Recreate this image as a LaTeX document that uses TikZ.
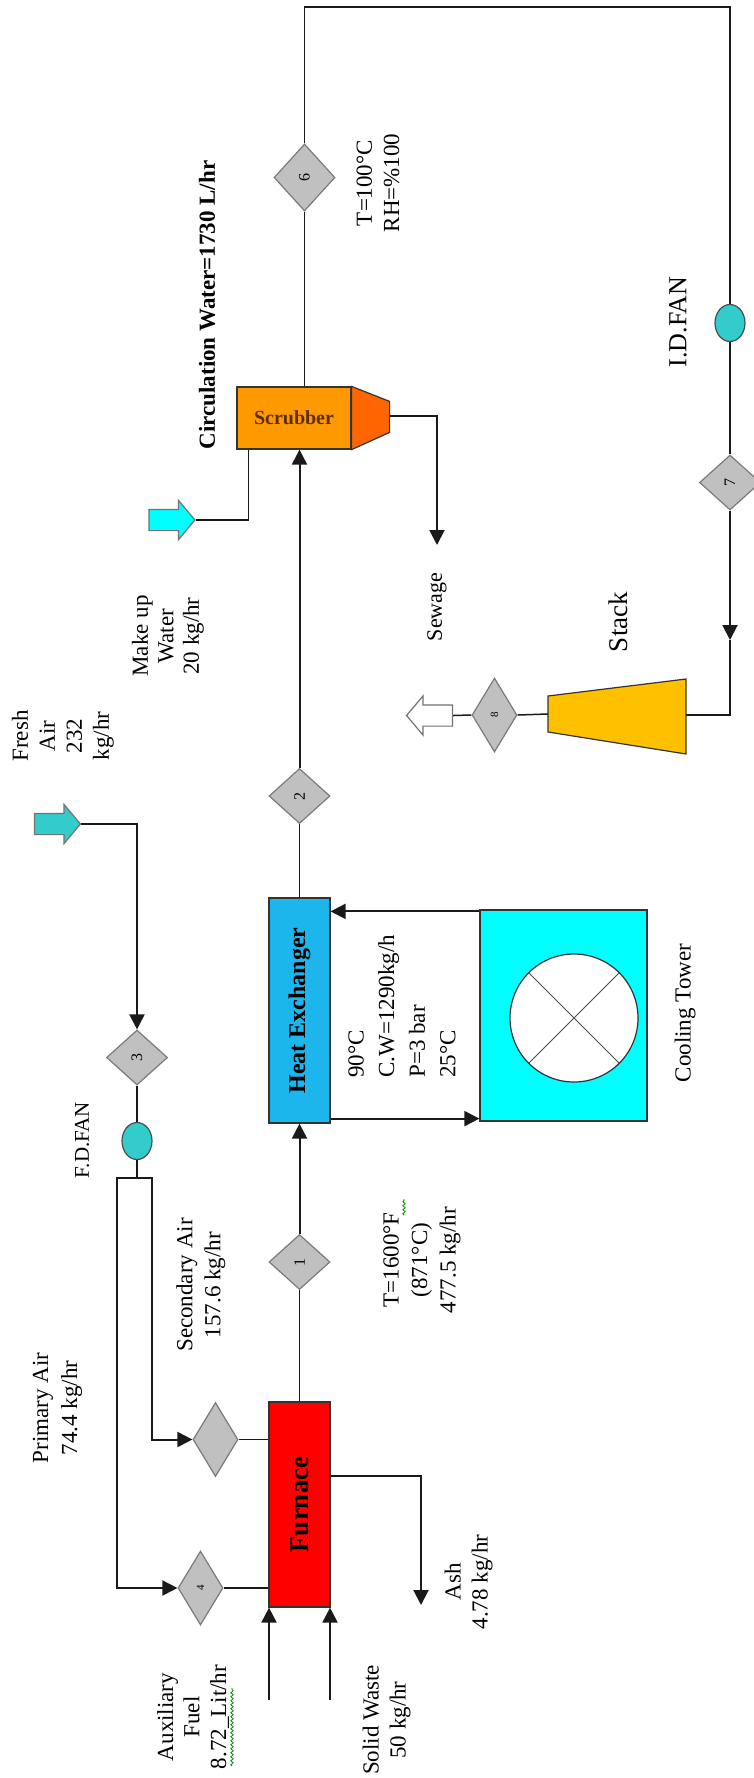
\documentclass[tikz,border=0pt]{standalone}
\usepackage{fontspec}
\setmainfont{Liberation Serif}
\usepackage{graphicx}
\usetikzlibrary{arrows.meta,calc,shapes.geometric,shapes.arrows,decorations.pathmorphing}
\definecolor{FurnaceRed}{HTML}{FF0000}
\definecolor{HxBlue}{HTML}{1CB5EC}
\definecolor{TowerCyan}{HTML}{00FFFF}
\definecolor{TagGray}{HTML}{C0C0C0}
\definecolor{TagEdge}{HTML}{7A7A7A}
\definecolor{FanTeal}{HTML}{33CCCC}
\definecolor{ScrubOrange}{HTML}{FF9900}
\definecolor{ScrubSide}{HTML}{FF6600}
\definecolor{ScrubText}{HTML}{5C2E00}
\definecolor{StackGold}{HTML}{FFC000}
\definecolor{LineGray}{HTML}{1A1A1A}
\tikzset{
  flowline/.style={draw=LineGray,line width=0.75pt},
  flowarrow/.style={flowline,line width=1pt,-{Triangle[length=7.5pt,width=7.5pt]}},
  unitbox/.style={rectangle,draw=black!80,line width=0.6pt,inner sep=0pt,font=\fontsize{13.5}{15}\selectfont\bfseries},
  tagbox/.style={diamond,draw=TagEdge,fill=TagGray,line width=0.6pt,inner sep=0pt,font=\fontsize{8}{9}\selectfont},
  tagwide/.style={tagbox,minimum width=30.5pt,minimum height=27.5pt},
  tagtall/.style={tagbox,minimum width=22.5pt,minimum height=37pt,font=\fontsize{5.5}{6}\selectfont},
  fanbox/.style={ellipse,draw=black!70,fill=FanTeal,line width=0.6pt,inner sep=0pt,minimum width=15pt,minimum height=18.5pt},
  feedarrow/.style={single arrow,single arrow tip angle=100,single arrow head extend=4.5pt,inner ysep=5pt,inner xsep=0pt,
    minimum height=23pt,draw=black!55,line width=0.6pt},
  note/.style={rotate=90,align=center,font=\fontsize{11.5}{14}\selectfont,inner sep=0pt},
  squiggle/.style={draw=green!55!black,line width=0.4pt,decorate,decoration={snake,amplitude=0.6pt,segment length=2pt}},
}
\newcommand{\rot}[1]{\rotatebox{90}{#1}}

\begin{document}
\begin{tikzpicture}[x=0.5pt,y=-0.5pt]
  \useasboundingbox (0,0) rectangle (754,1778);

  % units
  \node[unitbox,fill=FurnaceRed,minimum width=30.5pt,minimum height=102.5pt] (furnace) at (299.5,1504.5) {\rot{Furnace}};
  \node[unitbox,fill=HxBlue,minimum width=30.5pt,minimum height=112.5pt,font=\fontsize{12}{14}\selectfont\bfseries] (hx) at (299.5,1010.5) {\rot{Heat Exchanger}};
  \node[unitbox,fill=TowerCyan,minimum width=83.5pt,minimum height=105.5pt] (ct) at (563.5,1015.5) {};
  \node[circle,draw=black!80,fill=white,line width=0.6pt,minimum size=64pt,inner sep=0pt,
    path picture={\draw[black!70,line width=0.5pt] (path picture bounding box.north west) -- (path picture bounding box.south east)
      (path picture bounding box.north east) -- (path picture bounding box.south west);}] (ctfan) at (574,1018) {};
  \node[unitbox,fill=ScrubOrange,minimum width=57pt,minimum height=31pt,text=ScrubText,font=\fontsize{10}{12}\selectfont\bfseries] (scrub) at (294,418) {Scrubber};
  \draw[fill=ScrubSide,draw=black!80,line width=0.6pt] (scrub.north east) -- ++(38,15) -- ++(0,31) -- (scrub.south east) -- cycle;
  \coordinate (scrubout) at ($(scrub.east)+(38,-2)$);
  \draw[fill=StackGold,draw=black!80,line width=0.6pt] (548,696) -- (686,679) -- (686,754) -- (548,732) -- cycle;
  \coordinate (stackout) at (548,714);
  \coordinate (stackin) at (686,715);

  % stream tags and fans
  \node[tagwide] (d1) at (299.5,1262) {\rot{1}};
  \node[tagwide] (d2) at (299.5,796) {\rot{2}};
  \node[tagwide] (d3) at (137,1057.5) {\rot{3}};
  \node[tagtall] (d4) at (200.5,1588) {\rot{4}};
  \node[tagtall] (d5) at (215.5,1439.5) {};
  \node[tagwide,minimum height=33.5pt] (d6) at (304.5,177.5) {\rot{6}};
  \node[tagwide] (d7) at (730,482.5) {\rot{7}};
  \node[tagtall] (d8) at (494.5,715) {\rot{8}};
  \node[fanbox] (fdfan) at (137,1141) {};
  \node[fanbox] (idfan) at (730,323) {};

  % feeds
  \node[feedarrow,fill=FanTeal] (fresh) at (53,824) {};
  \node[feedarrow,fill=TowerCyan] (makeup) at (167.5,520) {};
  \node[feedarrow,fill=white,shape border rotate=180] (exhaust) at (434,715.5) {};

  \coordinate (split) at (137,1178);
  \coordinate (fuel) at (269,1700);
  \coordinate (waste) at (330,1700);
  \coordinate (ash) at (421,1605);
  \coordinate (sewage) at (437,545);
  \coordinate (duct) at (730,7);
  \coordinate (mid7) at (730,640);
  \path (ct.north west) ++(0,2) coordinate (cwret);
  \path (ct.south west) ++(0,-3) coordinate (cwsup);

  % connectors
  \draw[flowarrow] (fresh.east) -| (d3.north);
  \draw[flowline] (d3.south) -- (fdfan.north);
  \draw[flowline] (fdfan.south) -- (split);
  \draw[flowarrow] (split) -- ++(-20,0) |- (d4.west);
  \draw[flowarrow] (split) -- ++(15,0) |- (d5.west);
  \draw[flowline] (d4.east) -- (d4.east -| furnace.west);
  \draw[flowline] (d5.east) -- (d5.east -| furnace.west);
  \draw[flowarrow] (fuel) -- (fuel |- furnace.south);
  \draw[flowarrow] (waste) -- (waste |- furnace.south);
  \draw[flowarrow] (furnace.east) ++(0,-28.5) -| (ash);
  \draw[flowline] (furnace.north) -- (d1.south);
  \draw[flowarrow] (d1.north) -- (hx.south);
  \draw[flowarrow] (cwret) -- (cwret -| hx.east);
  \draw[flowarrow] (cwsup -| hx.east) -- (cwsup);
  \draw[flowline] (hx.north) -- (d2.south);
  \draw[flowarrow] (d2.north) -- (d2.north |- scrub.south);
  \draw[flowline] (makeup.east) -| ($(scrub.south west)+(12,0)$);
  \draw[flowarrow] (scrubout) -| (sewage);
  \draw[flowline] (d6.south) -- (d6.south |- scrub.north);
  \draw[flowline] (d6.north) |- (duct) -- (idfan.north);
  \draw[flowline] (idfan.south) -- (d7.north);
  \draw[flowarrow] (d7.south) -- (mid7);
  \draw[flowline] (mid7) |- (stackin);
  \draw[flowline] (stackout) -- (d8.east);
  \draw[flowline] (d8.west) -- (exhaust.east);

  % labels
  \node[note,font=\fontsize{11.5}{14}\selectfont\bfseries] (circlbl) at (207,305) {Circulation Water=1730 L/hr};
  \node[note,font=\fontsize{11.5}{13.5}\selectfont] (s6lbl) at (378,183) {T=100°C\\RH=\%100};
  \node[note,font=\fontsize{13}{15}\selectfont] (idlbl) at (678,322) {I.D.FAN};
  \node[note,font=\fontsize{13.5}{15}\selectfont] (stacklbl) at (618,622) {Stack};
  \node[note,font=\fontsize{11}{13}\selectfont] (sewlbl) at (437,607) {Sewage};
  \node[note,font=\fontsize{11.5}{12.75}\selectfont] (mulbl) at (168,636) {Make up\\Water\\20 kg/hr};
  \node[note,font=\fontsize{11.5}{13.5}\selectfont] (falbl) at (63,736) {Fresh\\Air\\232\\kg/hr};
  \node[note,font=\fontsize{10.5}{12}\selectfont] (fdlbl) at (82,1140) {F.D.FAN};
  \node[note,align=left,anchor=west,font=\fontsize{11.5}{15.3}\selectfont] (cwlbl) at (402,1078) {90°C\\C.W=1290kg/h\\P=3 bar\\25°C};
  \node[note] (ctlbl) at (685,1013) {Cooling Tower};
  \node[note,font=\fontsize{11.5}{14.25}\selectfont] (s1lbl) at (422,1260) {T=1600°F\\(871°C)\\477.5 kg/hr};
  \node[note] (salbl) at (201,1285) {Secondary Air\\157.6 kg/hr};
  \node[note,font=\fontsize{11.5}{14.5}\selectfont] (palbl) at (57.5,1408) {Primary Air\\74.4 kg/hr};
  \node[note,font=\fontsize{11.5}{13.25}\selectfont] (auxlbl) at (193,1717) {Auxiliary\\Fuel\\8.72\_Lit/hr};
  \node[note,font=\fontsize{11.5}{13.5}\selectfont] (swlbl) at (386.5,1720) {Solid Waste\\50 kg/hr};
  \node[note,font=\fontsize{11.5}{13.5}\selectfont] (ashlbl) at (468.5,1582) {Ash\\4.78 kg/hr};
  \draw[squiggle] (232,1766) -- (232,1688);
  \draw[squiggle] (404,1215) -- (404,1199);
\end{tikzpicture}
\end{document}
